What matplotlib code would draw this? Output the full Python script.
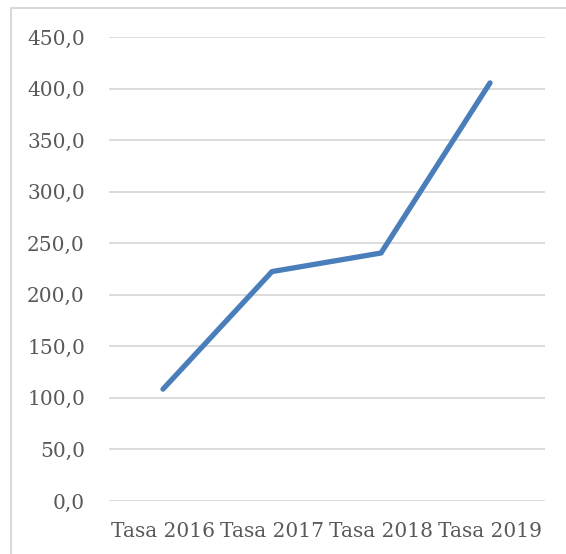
import matplotlib
matplotlib.use("Agg")
import matplotlib.pyplot as plt
from matplotlib.patches import Rectangle
from matplotlib.ticker import FuncFormatter

categories = ["Tasa 2016", "Tasa 2017", "Tasa 2018", "Tasa 2019"]
values = [108.5, 222.5, 240.5, 405.5]
yticks = [0, 50, 100, 150, 200, 250, 300, 350, 400, 450]

plt.rcParams['font.family'] = ['DejaVu Serif']

fig = plt.figure(figsize=(5.66, 5.54), dpi=100)
ax = fig.add_axes([108.5 / 566, 1 - 501 / 554, 436 / 566, 464 / 554])

# outer chart border (only left and top visible in the crop)
fig.patches.append(Rectangle((11 / 566, -0.1), 2, 0.1 + (554 - 8) / 554,
                             transform=fig.transFigure, fill=False,
                             edgecolor="#d9d9d9", linewidth=1.5))

x = range(len(categories))
ax.plot(x, values, color="#4a7ebb", linewidth=3.8, solid_capstyle="round",
        solid_joinstyle="round", zorder=3)

ax.set_xlim(-0.5, len(categories) - 0.5)
ax.set_ylim(0, 450)
ax.set_yticks(yticks)
ax.yaxis.set_major_formatter(FuncFormatter(lambda v, p: f"{v:.1f}".replace(".", ",")))
ax.set_xticks(list(x))
ax.set_xticklabels(categories)

ax.grid(axis="y", color="#d9d9d9", linewidth=1.3)
ax.set_axisbelow(True)
for s in ax.spines.values():
    s.set_visible(False)
ax.tick_params(axis="both", length=0, labelsize=14.5, colors="#595959")
ax.tick_params(axis="y", pad=17)
ax.tick_params(axis="x", pad=15)

fig.savefig("out.png", dpi=100)
